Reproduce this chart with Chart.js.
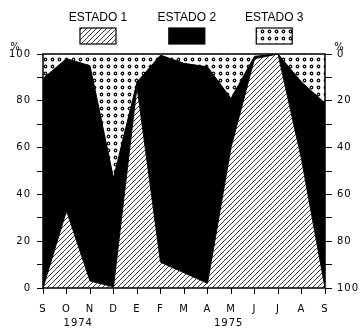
<!DOCTYPE html>
<html>
<head>
<meta charset="UTF-8">
<title>Estados 1974-1975</title>
<style>
  html, body { margin: 0; padding: 0; background: #fff; overflow: hidden; }
</style>
</head>
<body>
<canvas id="grafica" width="362" height="329"></canvas>
<script src="https://cdn.jsdelivr.net/npm/chart.js"></script>
<script>
// valores (% por mes, sep 1974 - sep 1975)
var meses = ['S', 'O', 'N', 'D', 'E', 'F', 'M', 'A', 'M', 'J', 'J', 'A', 'S'];
var anios = ['1974', '1975'];
var nombres = ['ESTADO 1', 'ESTADO 2', 'ESTADO 3'];
var estado1 = [0, 33, 3, 0.5, 86, 11, 6.5, 2, 60, 98, 100, 55, 0];
var estado2 = [89.5, 65, 92, 46.5, 2, 88.5, 89.5, 92.5, 21, 1, 0, 33, 79];
var estado3 = [10.5, 2, 5, 53, 12, 0.5, 4, 5.5, 19, 1, 0, 12, 21];
var ticksIzq = [0, 20, 40, 60, 80, 100];

var fuente = "'DejaVu Sans', sans-serif";

// tramas
function rayado() {
  var c = document.createElement('canvas');
  c.width = 5; c.height = 5;
  var g = c.getContext('2d');
  g.fillStyle = '#fff';
  g.fillRect(0, 0, 5, 5);
  g.strokeStyle = '#222';
  g.lineWidth = 0.9;
  g.beginPath();
  g.moveTo(0, 5); g.lineTo(5, 0);
  g.moveTo(-1, 1); g.lineTo(1, -1);
  g.moveTo(4, 6); g.lineTo(6, 4);
  g.stroke();
  return g.createPattern(c, 'repeat');
}

function punteado() {
  var c = document.createElement('canvas');
  c.width = 7; c.height = 7;
  var g = c.getContext('2d');
  g.fillStyle = '#fff';
  g.fillRect(0, 0, 7, 7);
  g.strokeStyle = '#000';
  g.lineWidth = 1.2;
  g.beginPath();
  g.arc(3.5, 3.5, 1.3, 0, Math.PI * 2);
  g.stroke();
  return g.createPattern(c, 'repeat');
}

var tramas = [rayado(), '#000', punteado()];

function etiqueta(v) {
  return ticksIzq.indexOf(v) >= 0 ? String(v) : '';
}

var extras = {
  id: 'extras',
  beforeDraw: function (chart) {
    chart.ctx.letterSpacing = '1px';
  },
  afterDraw: function (chart) {
    var ctx = chart.ctx, a = chart.chartArea;
    ctx.save();
    ctx.letterSpacing = '0px';
    // marco
    ctx.strokeStyle = '#000';
    ctx.lineWidth = 1.5;
    ctx.strokeRect(a.left, a.top, a.right - a.left, a.bottom - a.top);

    // leyenda arriba
    var ancho = a.right - a.left;
    var centros = [0.195, 0.51, 0.82];
    ctx.font = "12px 'Liberation Sans', Arial, sans-serif";
    ctx.textAlign = 'center';
    ctx.textBaseline = 'alphabetic';
    ctx.fillStyle = '#000';
    for (var i = 0; i < nombres.length; i++) {
      var cx = a.left + ancho * centros[i];
      ctx.fillText(nombres[i], cx, 21);
      ctx.fillStyle = tramas[i];
      ctx.fillRect(cx - 18, 28, 36, 16);
      ctx.strokeStyle = '#000';
      ctx.lineWidth = 1.2;
      ctx.strokeRect(cx - 18, 28, 36, 16);
      ctx.fillStyle = '#000';
    }

    // simbolos %
    ctx.font = "10px " + fuente;
    ctx.textBaseline = 'middle';
    ctx.fillText('%', 15, 47);
    ctx.fillText('%', 339, 47);

    // anios bajo el eje
    var x = chart.scales.x;
    ctx.font = "10px " + fuente;
    ctx.letterSpacing = '1px';
    ctx.fillText(anios[0], x.getPixelForValue(1.5), 323);
    ctx.fillText(anios[1], x.getPixelForValue(7.9), 323);
    ctx.restore();
  }
};

new Chart(document.getElementById('grafica'), {
  type: 'line',
  data: {
    labels: meses,
    datasets: [
      { label: nombres[0], data: estado1, backgroundColor: tramas[0], borderColor: '#000', borderWidth: 1, fill: 'origin' },
      { label: nombres[1], data: estado2, backgroundColor: '#000', borderColor: '#000', borderWidth: 1, fill: '-1' },
      { label: nombres[2], data: estado3, backgroundColor: tramas[2], borderColor: '#000', borderWidth: 0, fill: '-1' }
    ]
  },
  options: {
    responsive: false,
    animation: false,
    layout: { padding: { top: 54, left: 0, right: 0, bottom: 0 } },
    elements: { point: { radius: 0 }, line: { tension: 0 } },
    plugins: { legend: { display: false }, tooltip: { enabled: false } },
    scales: {
      x: {
        offset: false,
        grid: { drawOnChartArea: false, color: '#000', tickLength: 6 },
        border: { display: false },
        ticks: { color: '#000', padding: 9, maxRotation: 0, autoSkip: false, font: { family: fuente, size: 10 } },
        afterFit: function (s) { s.height = 41; }
      },
      y: {
        stacked: true,
        min: 0,
        max: 100,
        position: 'left',
        grid: { drawOnChartArea: false, color: '#000', tickLength: 6 },
        border: { display: false },
        ticks: { stepSize: 10, color: '#000', padding: 6, callback: etiqueta, font: { family: fuente, size: 10 } },
        afterFit: function (s) { s.width = 43; }
      },
      y2: {
        type: 'linear',
        min: 0,
        max: 100,
        reverse: true,
        position: 'right',
        grid: { drawOnChartArea: false, color: '#000', tickLength: 7 },
        border: { display: false },
        ticks: { stepSize: 10, color: '#000', padding: 5, callback: etiqueta, font: { family: fuente, size: 10 } },
        afterFit: function (s) { s.width = 37; }
      }
    }
  },
  plugins: [extras]
});
</script>
</body>
</html>
